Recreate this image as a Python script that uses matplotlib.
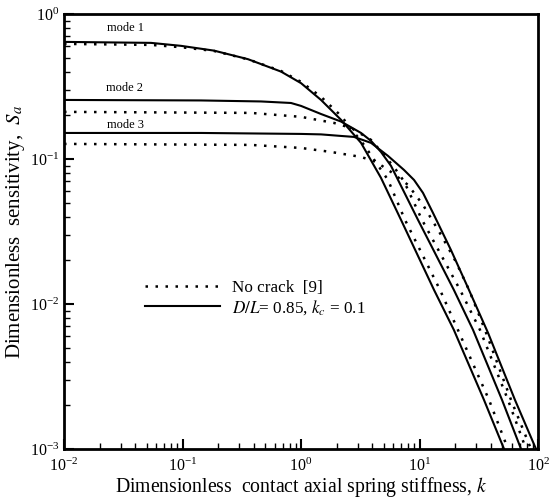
import matplotlib
matplotlib.use("Agg")
import matplotlib.pyplot as plt

plt.rcParams['font.family'] = ['Liberation Serif', 'DejaVu Serif']
plt.rcParams['mathtext.fontset'] = 'stix'

# mode 1 (cracked, solid) and no crack (dotted)
k_m1_crack = [0.01, 0.0542, 0.0971, 0.1844, 0.357, 0.678, 1.0, 1.475, 2.176, 3.21, 4.73, 6.98, 13.26, 19.5, 35.0, 51.7]
s_m1_crack = [0.641, 0.631, 0.602, 0.558, 0.487, 0.400, 0.333, 0.255, 0.186, 0.129, 0.0740, 0.0380, 0.01249, 0.00662, 0.00218, 0.001]
k_m1_nocrack = [0.01, 0.0542, 0.0971, 0.1844, 0.357, 0.678, 1.0, 1.475, 2.176, 3.40, 5.42, 7.54, 14.9, 21.1, 38.6, 55.8]
s_m1_nocrack = [0.621, 0.611, 0.589, 0.555, 0.486, 0.404, 0.340, 0.268, 0.198, 0.1249, 0.0716, 0.0380, 0.01249, 0.00662, 0.00218, 0.001]

# mode 2
k_m2_crack = [0.01, 0.1433, 0.4597, 0.823, 1.0, 1.475, 2.176, 3.21, 3.90, 4.73, 5.75, 6.59, 9.71, 19.5, 28.3, 49.7, 71.9]
s_m2_crack = [0.255, 0.253, 0.249, 0.243, 0.232, 0.204, 0.181, 0.151, 0.1331, 0.1117, 0.0895, 0.0716, 0.0380, 0.01249, 0.00662, 0.00218, 0.001]
k_m2_nocrack = [0.01, 0.378, 1.0, 1.899, 2.642, 3.90, 5.02, 6.34, 7.40, 10.5, 22.0, 32.4, 55.8, 79.2]
s_m2_nocrack = [0.211, 0.2076, 0.195, 0.177, 0.1636, 0.1352, 0.1066, 0.0839, 0.0700, 0.0380, 0.01249, 0.00662, 0.00218, 0.001]

# mode 3
k_m3_crack = [0.01, 0.1433, 1.0, 1.475, 2.176, 2.80, 3.90, 5.42, 7.40, 8.99, 10.7, 13.0, 18.4, 25.7, 37.9, 63.9, 96.2]
s_m3_crack = [0.151, 0.151, 0.1487, 0.1476, 0.144, 0.1418, 0.129, 0.1049, 0.0839, 0.0716, 0.0583, 0.0424, 0.0236, 0.01289, 0.00631, 0.00218, 0.001]
k_m3_nocrack = [0.01, 0.378, 1.0, 1.792, 3.21, 4.30, 5.75, 8.00, 10.7, 15.2, 20.3, 26.2, 35.7, 59.2, 87.3]
s_m3_nocrack = [0.1269, 0.1249, 0.119, 0.1117, 0.1032, 0.0954, 0.0813, 0.0662, 0.0482, 0.0299, 0.0195, 0.01249, 0.00662, 0.00218, 0.001]

mode_labels = ["mode 1", "mode 2", "mode 3"]
mode_label_k = [0.0333, 0.0321, 0.0333]
mode_label_s = [0.80, 0.309, 0.1716]

dot_style = (0, (1, 3))

fig = plt.figure(figsize=(5.5, 4.99), dpi=100)
ax = fig.add_axes([0.1164, 0.1002, 0.8618, 0.872])

l1, = ax.plot(k_m1_nocrack, s_m1_nocrack, color='black', lw=1.8, linestyle=dot_style)
l2, = ax.plot(k_m1_crack, s_m1_crack, color='black', lw=1.5)
ax.plot(k_m2_nocrack, s_m2_nocrack, color='black', lw=1.8, linestyle=dot_style)
ax.plot(k_m2_crack, s_m2_crack, color='black', lw=1.5)
ax.plot(k_m3_nocrack, s_m3_nocrack, color='black', lw=1.8, linestyle=dot_style)
ax.plot(k_m3_crack, s_m3_crack, color='black', lw=1.5)

for lab, xk, ys in zip(mode_labels, mode_label_k, mode_label_s):
    ax.text(xk, ys, lab, fontsize=9, ha='center', va='center')

ax.set_xscale('log')
ax.set_yscale('log')
ax.set_xlim(1e-2, 1e2)
ax.set_ylim(1e-3, 1e0)

for sp in ax.spines.values():
    sp.set_linewidth(2)
ax.tick_params(which='major', direction='in', length=7, width=1.5, labelsize=11.5,
               top=False, right=False)
ax.tick_params(which='minor', direction='in', length=4, width=1, top=False, right=False)
ax.tick_params(axis='x', pad=6)

ax.set_xlabel(r"Dimensionless  contact axial spring stiffness, $k$", fontsize=14.2, labelpad=0)
ax.set_ylabel(r"Dimensionless  sensitivity,  $S_a$", fontsize=15, labelpad=2)

ax.legend([l1, l2], ["No crack  [9]", r"$D/L$= 0.85, $k_c$ = 0.1"],
          loc='center left', bbox_to_anchor=(0.171, 0.346), frameon=False,
          fontsize=12.3, handlelength=4.4, handletextpad=0.7,
          borderpad=0, borderaxespad=0, labelspacing=0.1)

fig.savefig("out.png", dpi=100)
